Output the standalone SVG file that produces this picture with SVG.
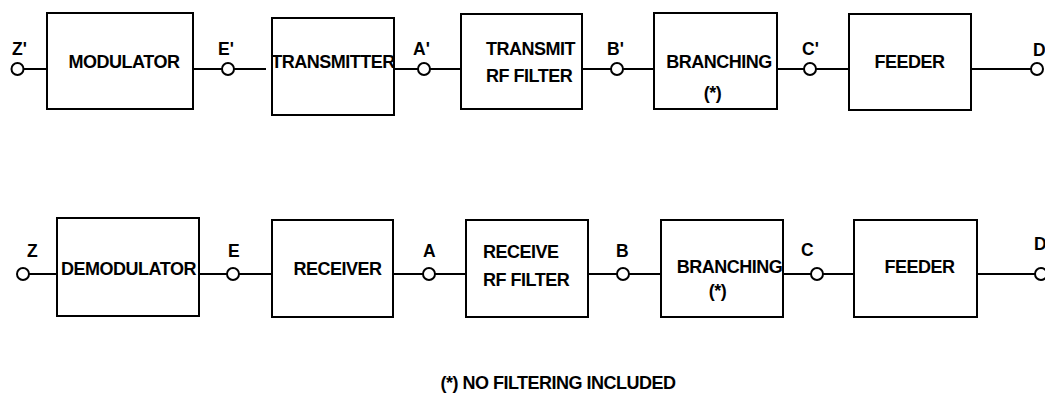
<svg xmlns="http://www.w3.org/2000/svg" width="1045" height="399" viewBox="0 0 1045 399">
<style>
.box{fill:#fff;stroke:#000;stroke-width:2}
.pt{fill:#fff;stroke:#000;stroke-width:2}
.ln{stroke:#000;stroke-width:2;fill:none}
text{font-family:"Liberation Sans",Arial,sans-serif;font-weight:bold;font-size:18px;letter-spacing:-0.5px;fill:#000}
.lb{font-size:17.5px;letter-spacing:0}
.c{text-anchor:middle}
</style>
<rect width="1045" height="399" fill="#fff"/>
<g id="connectors">
<line class="ln" x1="24" y1="69" x2="47" y2="69"/>
<line class="ln" x1="193" y1="69" x2="222" y2="69"/>
<line class="ln" x1="234" y1="69" x2="266" y2="69"/>
<line class="ln" x1="394" y1="69" x2="418" y2="69"/>
<line class="ln" x1="430" y1="69" x2="461" y2="69"/>
<line class="ln" x1="582" y1="69" x2="611" y2="69"/>
<line class="ln" x1="623" y1="69" x2="654" y2="69"/>
<line class="ln" x1="777" y1="69" x2="804" y2="69"/>
<line class="ln" x1="816" y1="69" x2="849" y2="69"/>
<line class="ln" x1="971" y1="69" x2="1031" y2="69"/>
<line class="ln" x1="29" y1="274" x2="57" y2="274"/>
<line class="ln" x1="199" y1="274" x2="227" y2="274"/>
<line class="ln" x1="239" y1="274" x2="272" y2="274"/>
<line class="ln" x1="393" y1="274" x2="423" y2="274"/>
<line class="ln" x1="435" y1="274" x2="466" y2="274"/>
<line class="ln" x1="588" y1="274" x2="617" y2="274"/>
<line class="ln" x1="629" y1="274" x2="661" y2="274"/>
<line class="ln" x1="783" y1="274" x2="811" y2="274"/>
<line class="ln" x1="823" y1="274" x2="854" y2="274"/>
<line class="ln" x1="977" y1="274" x2="1035" y2="274"/>
</g>
<g id="term-Z1"><circle class="pt" cx="17.5" cy="69" r="6"/><text class="lb" x="12" y="55">Z'</text></g>
<g id="term-E1"><circle class="pt" cx="228" cy="69" r="6"/><text class="lb" x="218" y="55">E'</text></g>
<g id="term-A1"><circle class="pt" cx="424" cy="69" r="6"/><text class="lb" x="413" y="55">A'</text></g>
<g id="term-B1"><circle class="pt" cx="617" cy="69" r="6"/><text class="lb" x="607" y="55">B'</text></g>
<g id="term-C1"><circle class="pt" cx="810" cy="69" r="6"/><text class="lb" x="802" y="55">C'</text></g>
<g id="term-D1"><circle class="pt" cx="1037" cy="69" r="6"/><text class="lb" x="1033" y="56">D</text></g>
<g id="modulator"><rect class="box" x="47" y="13" width="146" height="96"/><text class="c" x="124" y="68">MODULATOR</text></g>
<g id="transmitter"><rect class="box" x="272" y="18" width="122" height="97"/><text class="c" x="333" y="68">TRANSMITTER</text></g>
<g id="transmit-rf-filter"><rect class="box" x="461" y="14" width="121" height="95"/><text x="486" y="55">TRANSMIT</text><text x="486" y="82">RF FILTER</text></g>
<g id="branching-tx"><rect class="box" x="654" y="13" width="123" height="96"/><text class="c" x="719" y="68">BRANCHING</text><text class="c" x="712.5" y="99">(*)</text></g>
<g id="feeder-tx"><rect class="box" x="849" y="14" width="122" height="96"/><text class="c" x="909.5" y="68">FEEDER</text></g>
<g id="term-Z"><circle class="pt" cx="23" cy="274" r="6"/><text class="lb" x="27" y="257">Z</text></g>
<g id="term-E"><circle class="pt" cx="233" cy="274" r="6"/><text class="lb" x="228" y="257">E</text></g>
<g id="term-A"><circle class="pt" cx="429" cy="274" r="6"/><text class="lb" x="423" y="257">A</text></g>
<g id="term-B"><circle class="pt" cx="623" cy="274" r="6"/><text class="lb" x="616" y="257">B</text></g>
<g id="term-C"><circle class="pt" cx="817" cy="274" r="6"/><text class="lb" x="801" y="256">C</text></g>
<g id="term-D"><circle class="pt" cx="1041" cy="274" r="6"/><text class="lb" x="1034" y="250">D</text></g>
<g id="demodulator"><rect class="box" x="57" y="218" width="142" height="98"/><text class="c" x="128.5" y="275">DEMODULATOR</text></g>
<g id="receiver"><rect class="box" x="272" y="220" width="121" height="97"/><text class="c" x="337.5" y="275">RECEIVER</text></g>
<g id="receive-rf-filter"><rect class="box" x="466" y="220" width="122" height="97"/><text x="483" y="258">RECEIVE</text><text x="483" y="286">RF FILTER</text></g>
<g id="branching-rx"><rect class="box" x="661" y="220" width="122" height="97"/><text class="c" x="729.5" y="273">BRANCHING</text><text class="c" x="717.5" y="297">(*)</text></g>
<g id="feeder-rx"><rect class="box" x="854" y="220" width="123" height="97"/><text class="c" x="919.5" y="273">FEEDER</text></g>
<g id="note"><text class="c" x="558" y="389">(*) NO FILTERING INCLUDED</text></g>
</svg>
